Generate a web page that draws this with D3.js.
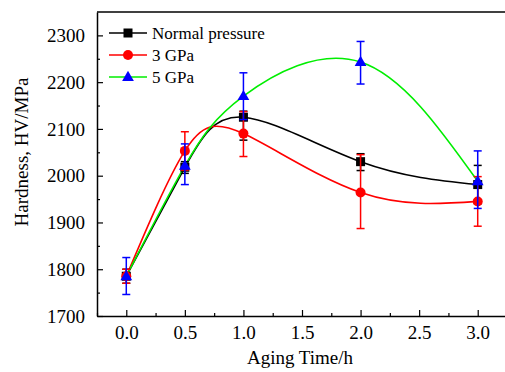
<!DOCTYPE html>
<html>
<head>
<meta charset="utf-8">
<script src="https://cdn.jsdelivr.net/npm/d3@7"></script>
<style>
  body { margin: 0; background: #fff; }
</style>
</head>
<body>
<figure id="chart" style="margin:0"></figure>
<script>
// aging time (h)
const agingTime = [0, 0.5, 1.0, 2.0, 3.0];

// hardness values, HV/MPa
const normalHardness = [1785, 2018, 2125, 2030, 1981];
const gpa3Hardness   = [1785, 2053, 2090, 1964, 1945];
const gpa5Hardness   = [1785, 2021, 2170, 2243, 1988];

// error bars as [low, high]
const normalErr = [[1770, 1800], [2005, 2030], [2076, 2138], [2011, 2047], [1940, 2022]];
const gpa3Err   = [[1770, 1800], [2012, 2094], [2041, 2137], [1887, 2045], [1892, 1998]];
const gpa5Err   = [[1746, 1825], [1981, 2068], [2120, 2220], [2196, 2287], [1930, 2053]];

const xTicks = [0, 0.5, 1.0, 1.5, 2.0, 2.5, 3.0];
const yTicks = [1700, 1800, 1900, 2000, 2100, 2200, 2300];
const seriesNames = ["Normal pressure", "3 GPa", "5 GPa"];

const FONT = "'Liberation Serif', 'Times New Roman', serif";
const width = 505;
const height = 372;
const margin = { top: 12, right: -2, bottom: 56, left: 97 };

const svg = d3.select("figure#chart")
  .append("svg")
  .attr("width", width)
  .attr("height", height)
  .style("font-family", FONT);

const x = d3.scaleLinear()
  .domain([-0.25, 3.25])
  .range([margin.left, width - margin.right]);

const y = d3.scaleLinear()
  .domain([1700, 2350])
  .range([height - margin.bottom, margin.top]);

const series = [
  { name: seriesNames[0], values: normalHardness, err: normalErr, line: "#000000", mark: "#000000", shape: "square" },
  { name: seriesNames[1], values: gpa3Hardness, err: gpa3Err, line: "#ff0000", mark: "#ff0000", shape: "circle" },
  { name: seriesNames[2], values: gpa5Hardness, err: gpa5Err, line: "#00ee00", mark: "#0000ff", shape: "triangle" }
];

// smooth curves
const line = d3.line()
  .x(d => x(d[0]))
  .y(d => y(d[1]))
  .curve(d3.curveNatural);

series.forEach(s => {
  svg.append("path")
    .attr("d", line(agingTime.map((t, i) => [t, s.values[i]])))
    .attr("fill", "none")
    .attr("stroke", s.line)
    .attr("stroke-width", 1.6);
});

function drawMarker(g, shape, color, cx, cy) {
  if (shape === "square") {
    g.append("rect").attr("x", cx - 4.5).attr("y", cy - 4.5)
      .attr("width", 9).attr("height", 9).attr("fill", color);
  } else if (shape === "circle") {
    g.append("circle").attr("cx", cx).attr("cy", cy).attr("r", 5).attr("fill", color);
  } else {
    g.append("path")
      .attr("d", d3.symbol(d3.symbolTriangle, 60)())
      .attr("transform", "translate(" + cx + "," + (cy + 0.5) + ")")
      .attr("fill", color);
  }
}

// error bars + markers
series.forEach(s => {
  const g = svg.append("g");
  agingTime.forEach((t, i) => {
    const cx = x(t);
    const [lo, hi] = s.err[i];
    g.append("line").attr("x1", cx).attr("x2", cx)
      .attr("y1", y(lo)).attr("y2", y(hi))
      .attr("stroke", s.mark).attr("stroke-width", 1.5);
    [lo, hi].forEach(v => {
      g.append("line").attr("x1", cx - 4).attr("x2", cx + 4)
        .attr("y1", y(v)).attr("y2", y(v))
        .attr("stroke", s.mark).attr("stroke-width", 1.5);
    });
  });
  agingTime.forEach((t, i) => drawMarker(g, s.shape, s.mark, x(t), y(s.values[i])));
});

// axes, ticks inside
const xAxis = svg.append("g")
  .attr("transform", "translate(0," + (height - margin.bottom) + ")")
  .call(d3.axisBottom(x).tickValues(xTicks).tickFormat(d3.format(".1f")).tickSizeInner(-6).tickSizeOuter(0).tickPadding(10));

svg.append("g")
  .attr("transform", "translate(0," + (height - margin.bottom) + ")")
  .call(d3.axisBottom(x).tickValues([-0.25, 0.25, 0.75, 1.25, 1.75, 2.25, 2.75, 3.25]).tickFormat("").tickSizeInner(-3).tickSizeOuter(0))
  .call(g => g.select(".domain").remove());

const yAxis = svg.append("g")
  .attr("transform", "translate(" + margin.left + ",0)")
  .call(d3.axisLeft(y).tickValues(yTicks).tickFormat(d3.format("d")).tickSizeInner(-6).tickSizeOuter(0).tickPadding(12));

svg.append("g")
  .attr("transform", "translate(" + margin.left + ",0)")
  .call(d3.axisLeft(y).tickValues([1750, 1850, 1950, 2050, 2150, 2250]).tickFormat("").tickSizeInner(-3).tickSizeOuter(0))
  .call(g => g.select(".domain").remove());

// top frame
svg.append("line")
  .attr("x1", margin.left).attr("x2", width)
  .attr("y1", margin.top).attr("y2", margin.top)
  .attr("stroke", "#000").attr("stroke-width", 1.5);

svg.selectAll(".domain").attr("stroke-width", 1.5);
svg.selectAll(".tick line").attr("stroke-width", 1.2);
svg.selectAll(".tick text")
  .attr("font-family", FONT)
  .style("font-family", FONT)
  .style("font-size", "19px");

// axis titles
svg.append("text")
  .attr("x", 300).attr("y", 364)
  .attr("text-anchor", "middle")
  .style("font-family", FONT)
  .style("font-size", "19px")
  .text("Aging Time/h");

svg.append("text")
  .attr("transform", "translate(28,152) rotate(-90)")
  .attr("text-anchor", "middle")
  .style("font-family", FONT)
  .style("font-size", "19px")
  .text("Hardness, HV/MPa");

// legend
const legend = svg.append("g").attr("transform", "translate(109,33)");
series.forEach((s, i) => {
  const row = legend.append("g").attr("transform", "translate(0," + (i * 22) + ")");
  row.append("line").attr("x1", 0).attr("x2", 38).attr("y1", 0).attr("y2", 0)
    .attr("stroke", s.line).attr("stroke-width", 1.6);
  drawMarker(row, s.shape, s.mark, 19, 0);
  row.append("text").attr("x", 43).attr("y", 6)
    .style("font-family", FONT)
    .style("font-size", "17px")
    .text(s.name);
});
</script>
</body>
</html>
